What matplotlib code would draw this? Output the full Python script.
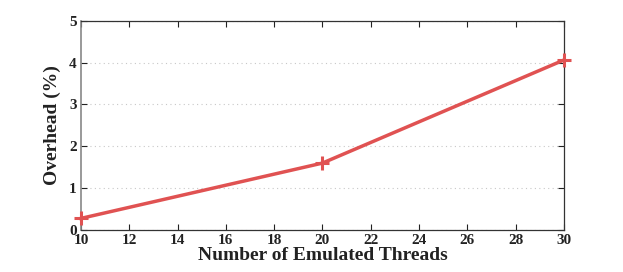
import matplotlib
matplotlib.use("Agg")
import matplotlib.pyplot as plt

threads = [10, 20, 30]
overhead = [0.28, 1.6, 4.06]
xticks = [10, 12, 14, 16, 18, 20, 22, 24, 26, 28, 30]
yticks = [0, 1, 2, 3, 4, 5]

plt.rcParams['font.family'] = ['Liberation Serif', 'DejaVu Serif']
plt.rcParams['font.weight'] = 'bold'

fig = plt.figure(figsize=(6.23, 2.72), dpi=100)
ax = fig.add_axes([0.130, 0.154, 0.775, 0.770])
ax.plot(threads, overhead, color='#e05252', linewidth=2.5, marker='+',
        markersize=10, markeredgewidth=2.2, clip_on=False, zorder=3)
ax.set_xlim(10, 30)
ax.set_ylim(0, 5)
ax.set_xticks(xticks)
ax.set_yticks(yticks)
ax.grid(axis='y', linestyle=(0, (1, 3)), color='#c8c8c8', linewidth=0.8)
ax.tick_params(direction='in', top=True, right=True, length=4, width=0.8,
               labelsize=11, pad=3, colors='#222222')
for lab in ax.get_xticklabels() + ax.get_yticklabels():
    lab.set_fontweight('bold')
for s in ax.spines.values():
    s.set_color('#333333')
    s.set_linewidth(0.9)
ax.spines['left'].set_color('#888888')
ax.spines['left'].set_linewidth(1.2)
ax.set_xlabel('Number of Emulated Threads', fontsize=14, fontweight='bold', labelpad=0, color='#222222')
ax.set_ylabel('Overhead (%)', fontsize=14, fontweight='bold', labelpad=6, color='#222222')
fig.savefig('out.png', dpi=100)
